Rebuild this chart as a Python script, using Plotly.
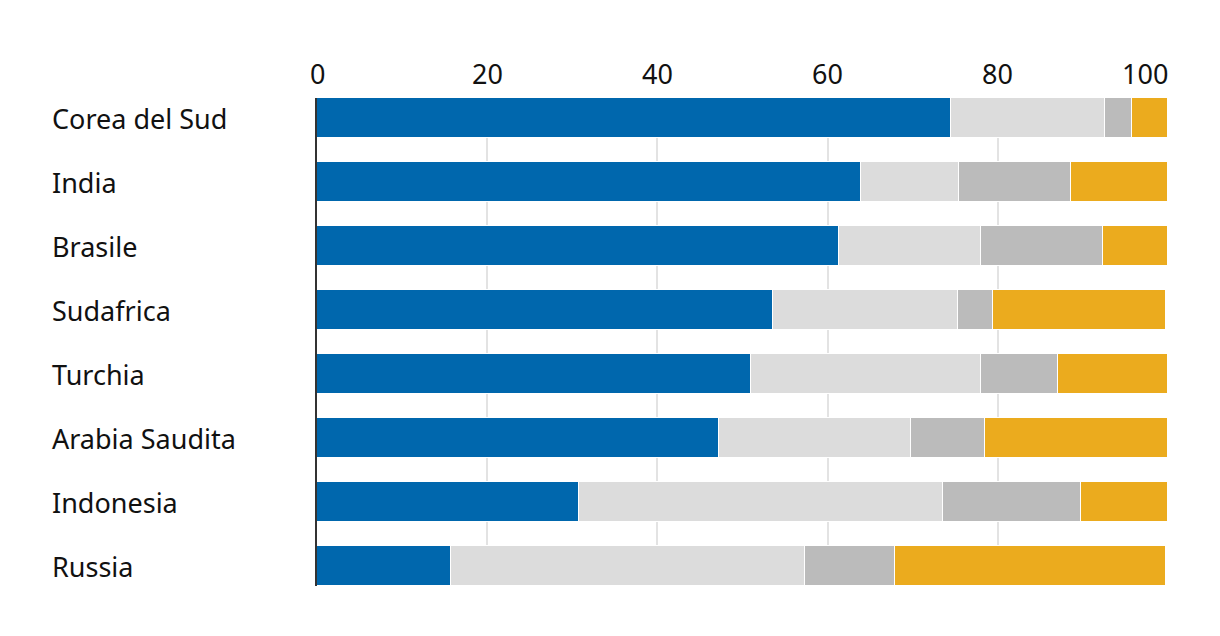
import plotly.graph_objects as go

countries = ["Corea del Sud", "India", "Brasile", "Sudafrica", "Turchia",
             "Arabia Saudita", "Indonesia", "Russia"]
seg1 = [74.5, 63.9, 61.3, 53.6, 51.0, 47.2, 30.8, 15.7]
seg2 = [18.1, 11.5, 16.7, 21.7, 27.0, 22.6, 42.8, 41.6]
seg3 = [3.2, 13.2, 14.4, 4.1, 9.0, 8.7, 16.2, 10.6]
seg4 = [4.2, 11.4, 7.6, 20.4, 13.0, 21.5, 10.2, 31.9]
series_names = ["Serie 1", "Serie 2", "Serie 3", "Serie 4"]
colors = ["#0067AD", "#DCDCDC", "#BBBBBB", "#EBAB1E"]
x_ticks = [0, 20, 40, 60, 80, 100]

fig = go.Figure()
for name, vals, col in zip(series_names, [seg1, seg2, seg3, seg4], colors):
    fig.add_trace(go.Bar(
        y=countries, x=vals, name=name, orientation="h",
        marker=dict(color=col, line=dict(color="white", width=1)),
        width=0.625,
    ))

FONT = "Noto Sans"
for c in countries:
    fig.add_annotation(x=-0.3125, xref="paper", y=c, yref="y", text=c,
                       showarrow=False, xanchor="left", yanchor="middle",
                       xshift=-1,
                       font=dict(family=FONT, size=27, color="#111"))

for i, t in enumerate(x_ticks):
    last = i == len(x_ticks) - 1
    fig.add_annotation(x=t, xref="x", y=1, yref="paper", text=str(t),
                       showarrow=False,
                       xanchor="right" if last else "center",
                       yanchor="middle", yshift=25, xshift=2 if last else 0,
                       font=dict(family=FONT, size=27, color="#111"))

fig.update_layout(
    barmode="stack",
    width=1220, height=636,
    margin=dict(l=309, r=59, t=90, b=58),
    plot_bgcolor="white", paper_bgcolor="white",
    showlegend=False,
    bargap=0,
    xaxis=dict(side="top", range=[0, 100.1], tickvals=x_ticks,
               showgrid=True, gridcolor="#E3E3E3", gridwidth=2,
               zeroline=False, showline=False, showticklabels=False),
    yaxis=dict(categoryorder="array", categoryarray=countries,
               range=[7.3125, -0.3125], autorange=False,
               showticklabels=False, showgrid=False, zeroline=False,
               showline=True, linecolor="#333", linewidth=2),
)

fig.write_html("out.html")
